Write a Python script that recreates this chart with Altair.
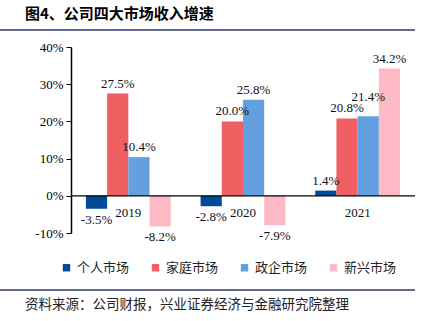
import altair as alt
import pandas as pd

years = ["2019", "2020", "2021"]
series = ["个人市场", "家庭市场", "政企市场", "新兴市场"]
colors = ["#004A97", "#F06062", "#64A0E0", "#FFB9C4"]
v_personal = [-3.5, -2.8, 1.4]
v_home = [27.5, 20.0, 20.8]
v_gov = [10.4, 25.8, 21.4]
v_new = [-8.2, -7.9, 34.2]
y_ticks = [-10, 0, 10, 20, 30, 40]
title_text = "图4、公司四大市场收入增速"
source_text = "资料来源：公司财报，兴业证券经济与金融研究院整理"

rows = []
for s, vals in zip(series, [v_personal, v_home, v_gov, v_new]):
    for y, v in zip(years, vals):
        rows.append({"year": y, "series": s, "value": v, "label": f"{v:.1f}%"})
df = pd.DataFrame(rows)

SERIF = "Liberation Serif"
CJK = "Noto Sans CJK SC"
W, H = 344, 186
L, T = 71, 47

xenc = alt.X("year:N", sort=years, axis=None,
             scale=alt.Scale(paddingInner=0.26, paddingOuter=0.13))
xoff = alt.XOffset("series:N", sort=series, scale=alt.Scale(paddingInner=0))
yscale = alt.Scale(domain=[-10, 40], nice=False, zero=False)
yaxis = alt.Axis(values=y_ticks, labelExpr="datum.value + '%'",
                 grid=False, domainColor="#000", tickColor="#000", tickSize=5,
                 labelFont=SERIF, labelFontSize=13, labelColor="#000",
                 labelOverlap=False, labelPadding=3, domainWidth=1.5, title=None)


def yenc(field):
    return alt.Y(field, scale=yscale, axis=yaxis, title=None)


base = alt.Chart(df)

bars = base.mark_bar().encode(
    x=xenc,
    xOffset=xoff,
    y=yenc("value:Q"),
    color=alt.Color("series:N", sort=series,
                    scale=alt.Scale(domain=series, range=colors),
                    legend=alt.Legend(title=None, orient="none", direction="horizontal",
                                      legendX=-11, legendY=214, symbolType="square",
                                      symbolSize=55, symbolStrokeWidth=0,
                                      labelFont=CJK, labelFontSize=13, labelColor="#222",
                                      columnPadding=19, labelOffset=4)),
)

crowded = "datum.year == '2021' && datum.series == '政企市场'"

pos_labels = base.transform_filter("datum.value >= 0 && !(" + crowded + ")").mark_text(
    baseline="bottom", dy=-3, font=SERIF, fontSize=13, color="#111"
).encode(x=xenc, xOffset=xoff, y=yenc("value:Q"), text="label:N")

raised_labels = base.transform_filter(crowded).mark_text(
    baseline="bottom", dy=-12, font=SERIF, fontSize=13, color="#111"
).encode(x=xenc, xOffset=xoff, y=yenc("value:Q"), text="label:N")

neg_labels = base.transform_filter("datum.value < 0").mark_text(
    baseline="top", dy=5, font=SERIF, fontSize=13, color="#111"
).encode(x=xenc, xOffset=xoff, y=yenc("value:Q"), text="label:N")

zero = alt.Chart(pd.DataFrame({"value": [0]})).mark_rule(color="#000", strokeWidth=1.3).encode(
    y=yenc("value:Q")
)

year_df = pd.DataFrame({"year": years, "value": [0, 0, 0]})
year_labels = alt.Chart(year_df).mark_text(
    baseline="middle", dy=17, font=SERIF, fontSize=13, color="#111"
).encode(x=xenc, y=yenc("value:Q"), text="year:N")

title_layer = alt.Chart(pd.DataFrame({"t": [title_text]})).mark_text(
    align="left", baseline="middle", font=CJK, fontSize=15, fontWeight="bold", color="#000"
).encode(x=alt.value(25 - L), y=alt.value(14 - T), text="t:N")

source_layer = alt.Chart(pd.DataFrame({"t": [source_text]})).mark_text(
    align="left", baseline="middle", font=CJK, fontSize=13.5, color="#222"
).encode(x=alt.value(25 - L), y=alt.value(305 - T), text="t:N")

top_rule = alt.Chart(pd.DataFrame({"a": [0]})).mark_rule(color="#2B3670", strokeWidth=1.5).encode(
    x=alt.value(0 - L), x2=alt.value(415 - L), y=alt.value(30 - T)
)
bottom_rule = alt.Chart(pd.DataFrame({"a": [0]})).mark_rule(color="#2B3670", strokeWidth=1.5).encode(
    x=alt.value(0 - L), x2=alt.value(415 - L), y=alt.value(290 - T)
)

chart = alt.layer(
    bars, zero, pos_labels, raised_labels, neg_labels, year_labels,
    title_layer, source_layer, top_rule, bottom_rule
).resolve_scale(x="shared").properties(
    width=W, height=H,
    autosize=alt.AutoSizeParams(type="none"),
    padding={"left": L, "top": T, "right": 438 - L - W, "bottom": 321 - T - H},
    background="white",
).configure_view(stroke=None)

chart.save("out.html", embed_options={"renderer": "svg", "actions": False})
